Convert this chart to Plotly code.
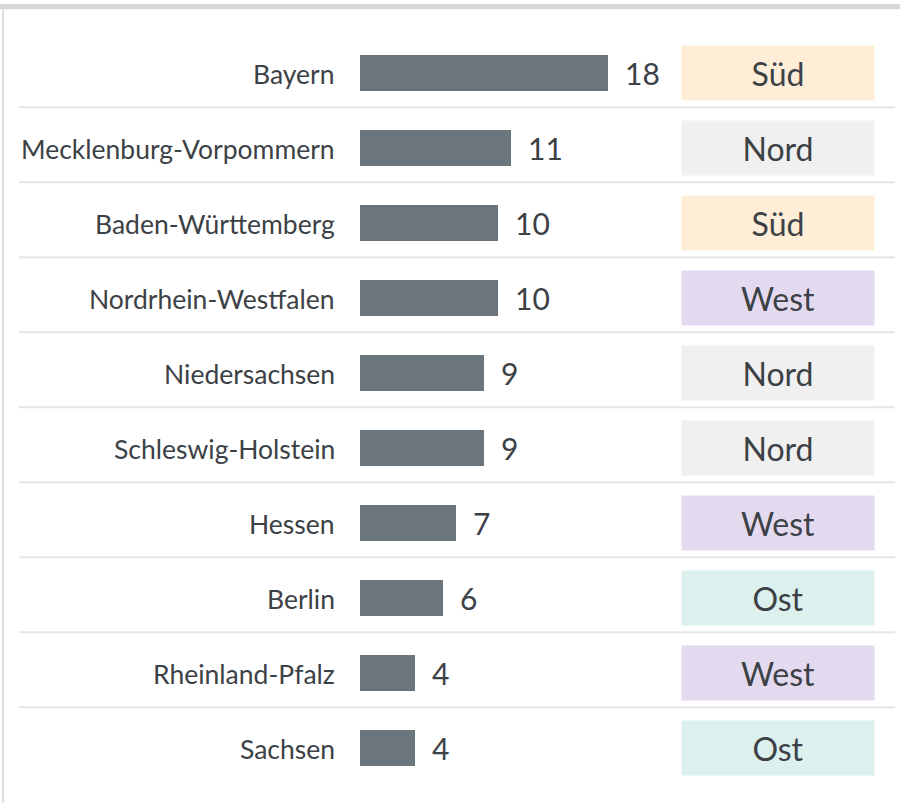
import plotly.graph_objects as go

states = ["Bayern", "Mecklenburg-Vorpommern", "Baden-Württemberg", "Nordrhein-Westfalen",
          "Niedersachsen", "Schleswig-Holstein", "Hessen", "Berlin", "Rheinland-Pfalz", "Sachsen"]
values = [18, 11, 10, 10, 9, 9, 7, 6, 4, 4]
regions = ["Süd", "Nord", "Süd", "West", "Nord", "Nord", "West", "Ost", "West", "Ost"]
region_colors = {"Süd": "#ffedd8", "Nord": "#f0f0f0", "West": "#e4daf0", "Ost": "#dcf0ed"}

W, H = 900, 803
PX_PER_UNIT = 13.75
BAR_X0 = 360
ROW_H = 75
ROW0 = 72.8
TEXT = "#3c4146"
FONT = "Lato"

n = len(states)
idx = list(range(n))

fig = go.Figure()
fig.add_trace(go.Bar(
    x=values, y=idx, orientation="h", base=0,
    marker=dict(color="#6b767c", line=dict(width=0)),
    width=36 / ROW_H, hoverinfo="skip",
))

annotations = []
shapes = []
for i, (s, v, r) in enumerate(zip(states, values, regions)):
    annotations.append(dict(x=337 / W, xref="paper", y=i, yref="y", text=s,
                            xanchor="right", yanchor="middle", yshift=-1, showarrow=False,
                            font=dict(family=FONT, size=26.5, color=TEXT)))
    annotations.append(dict(x=v, xref="x", y=i, yref="y", text=str(v),
                            xanchor="left", yanchor="middle", xshift=15, showarrow=False,
                            font=dict(family=FONT, size=30, color=TEXT)))
    annotations.append(dict(x=(682 + 874) / 2 / W, xref="paper", y=i, yref="y", text=r,
                            xanchor="center", yanchor="middle", showarrow=False,
                            width=192, height=54, borderpad=0, bgcolor=region_colors[r],
                            align="center", valign="middle",
                            font=dict(family=FONT, size=32, color=TEXT)))
    if i < n - 1:
        shapes.append(dict(type="line", xref="paper", yref="y",
                           x0=19 / W, x1=895 / W, y0=i + 0.46, y1=i + 0.46,
                           line=dict(color="#e6e6e6", width=2), layer="below"))

# container borders
shapes.append(dict(type="rect", xref="paper", yref="paper", x0=0, x1=1,
                   y0=1 - 9.3 / H, y1=1 - 4 / H, fillcolor="#d5d9dc", line=dict(width=0)))
shapes.append(dict(type="rect", xref="paper", yref="paper", x0=2 / W, x1=4 / W,
                   y0=0, y1=1 - 9.3 / H, fillcolor="#dedfe0", line=dict(width=0)))

fig.update_layout(
    width=W, height=H,
    margin=dict(l=0, r=0, t=0, b=0),
    paper_bgcolor="white", plot_bgcolor="white",
    showlegend=False,
    xaxis=dict(range=[-BAR_X0 / PX_PER_UNIT, (W - BAR_X0) / PX_PER_UNIT],
               visible=False, fixedrange=True),
    yaxis=dict(range=[(H - ROW0) / ROW_H, -ROW0 / ROW_H],
               visible=False, fixedrange=True),
    annotations=annotations, shapes=shapes,
    bargap=0,
)

fig.write_html("out.html", config={"displayModeBar": False},
               post_script="document.body.style.margin='0';document.body.style.overflow='hidden';")
